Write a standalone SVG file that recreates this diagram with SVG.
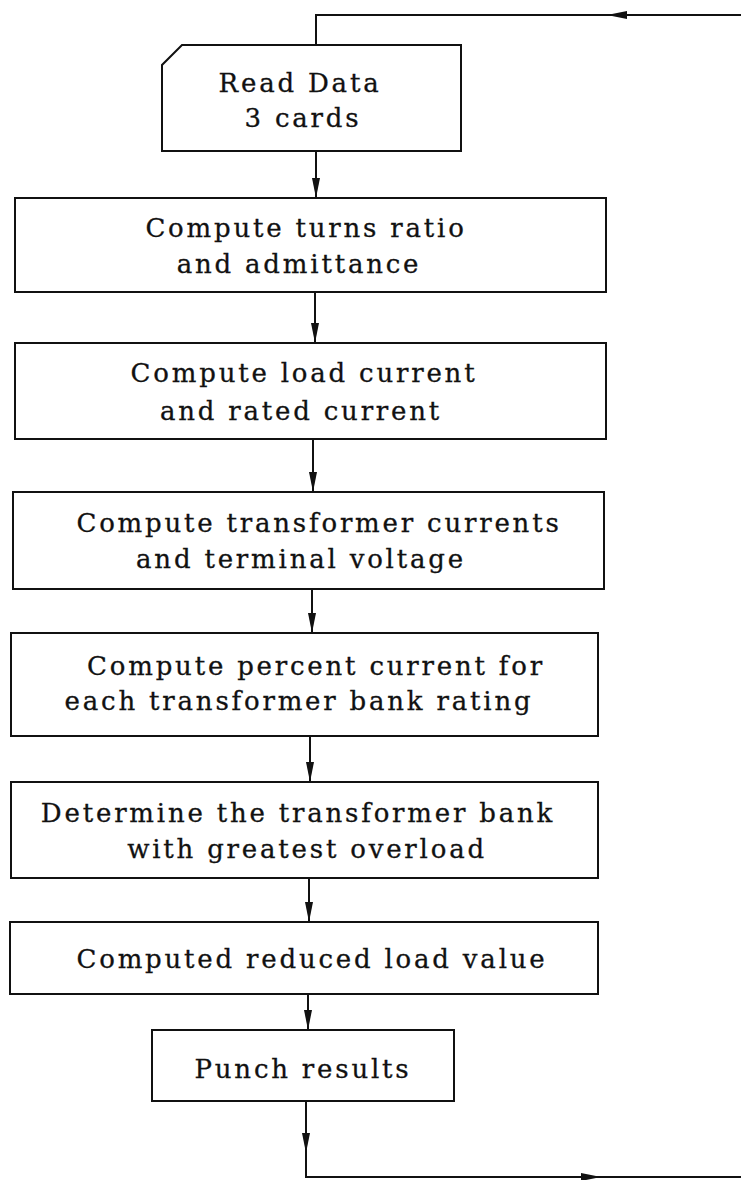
<svg xmlns="http://www.w3.org/2000/svg" width="741" height="1180" viewBox="0 0 741 1180">
<defs>
<style>
.box{fill:#fff;stroke:#111;stroke-width:2}
.t{font-family:"DejaVu Serif","Liberation Serif",serif;font-size:26px;fill:#111;stroke:#111;stroke-width:0.3;text-anchor:middle;letter-spacing:2.8px}
.c{fill:none;stroke:#111;stroke-width:2}
</style>
<marker id="ah" viewBox="0 0 20 8" refX="20" refY="4" markerWidth="20" markerHeight="8" markerUnits="userSpaceOnUse" orient="auto" preserveAspectRatio="none">
<path d="M0,0 L20,4 L0,8 Z" fill="#111"/>
</marker>
</defs>
<rect width="741" height="1180" fill="#fff"/>
<g id="connectors">
<path class="c" d="M316,45 V15 H741"/>
<path class="c" d="M650,15 H607" marker-end="url(#ah)"/>
<path class="c" d="M316,151 V198" marker-end="url(#ah)"/>
<path class="c" d="M315,292 V343" marker-end="url(#ah)"/>
<path class="c" d="M313,439 V492" marker-end="url(#ah)"/>
<path class="c" d="M312,589 V633" marker-end="url(#ah)"/>
<path class="c" d="M310,736 V782" marker-end="url(#ah)"/>
<path class="c" d="M309,878 V922" marker-end="url(#ah)"/>
<path class="c" d="M308,994 V1030" marker-end="url(#ah)"/>
<path class="c" d="M306,1101 V1153" marker-end="url(#ah)"/>
<path class="c" d="M306,1150 V1177 H741"/>
<path class="c" d="M560,1177 H601" marker-end="url(#ah)"/>
</g>
<g id="read-data">
<path class="box" d="M182,45 H461 V151 H162 V65 Z"/>
<text class="t" x="300" y="92">Read Data</text>
<text class="t" x="303" y="127">3 cards</text>
</g>
<g id="turns-ratio">
<rect class="box" x="15" y="198" width="591" height="94"/>
<text class="t" x="306" y="237">Compute turns ratio</text>
<text class="t" x="299" y="273">and admittance</text>
</g>
<g id="load-current">
<rect class="box" x="15" y="343" width="591" height="96"/>
<text class="t" x="304" y="382">Compute load current</text>
<text class="t" x="301" y="420">and rated current</text>
</g>
<g id="transformer-currents">
<rect class="box" x="13" y="492" width="591" height="97"/>
<text class="t" x="319" y="532">Compute transformer currents</text>
<text class="t" x="301" y="568">and terminal voltage</text>
</g>
<g id="percent-current">
<rect class="box" x="11" y="633" width="587" height="103"/>
<text class="t" x="316" y="675">Compute percent current for</text>
<text class="t" x="299" y="710">each transformer bank rating</text>
</g>
<g id="greatest-overload">
<rect class="box" x="11" y="782" width="587" height="96"/>
<text class="t" x="298" y="822">Determine the transformer bank</text>
<text class="t" x="307" y="858">with greatest overload</text>
</g>
<g id="reduced-load">
<rect class="box" x="10" y="922" width="588" height="72"/>
<text class="t" x="312" y="968">Computed reduced load value</text>
</g>
<g id="punch-results">
<rect class="box" x="152" y="1030" width="302" height="71"/>
<text class="t" x="303" y="1078">Punch results</text>
</g>
</svg>
